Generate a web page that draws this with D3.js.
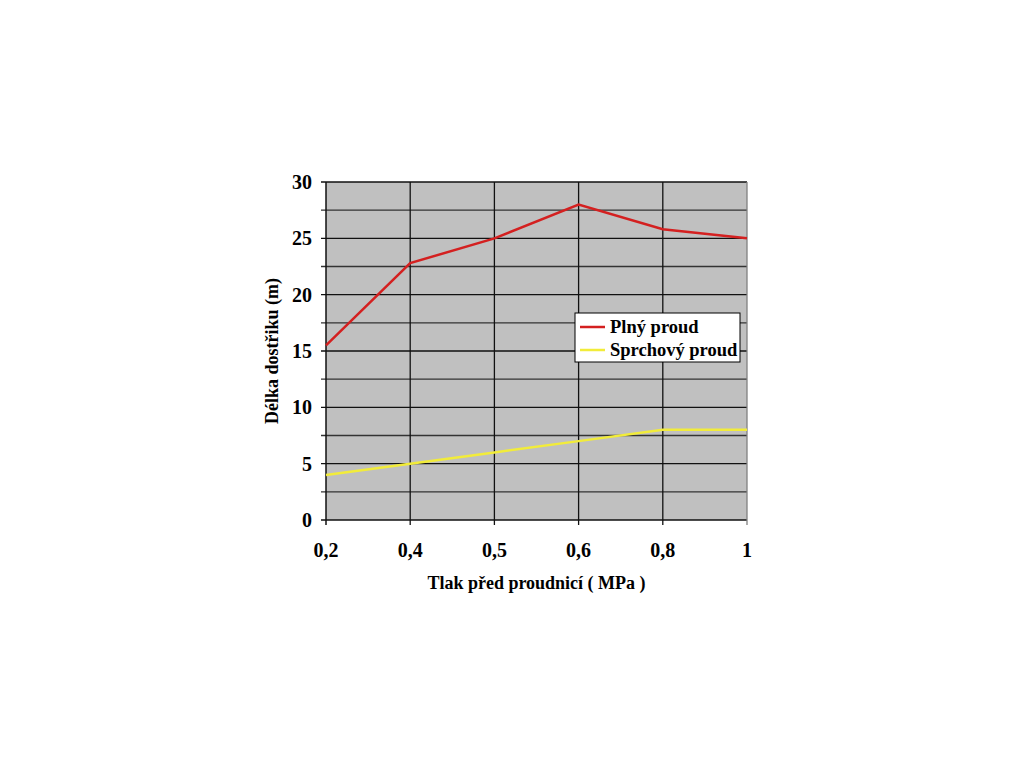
<!DOCTYPE html>
<html>
<head>
<meta charset="utf-8">
<script src="https://cdn.jsdelivr.net/npm/d3@7"></script>
<style>
  body { margin: 0; background: #fff; }
  svg text { font-family: "Times New Roman", "Liberation Serif", Tinos, "DejaVu Serif", serif; font-weight: bold; fill: #000; }
</style>
</head>
<body>
<script>
// data
var categories = ["0,2", "0,4", "0,5", "0,6", "0,8", "1"];
var plnyProud = [15.5, 22.8, 25, 28, 25.8, 25];
var sprchovyProud = [4, 5, 6, 7, 8, 8];
var yTicks = [0, 5, 10, 15, 20, 25, 30];
var yGrid = d3.range(0, 30.01, 2.5);

var series = [
  {name: "Plný proud", values: plnyProud, color: "#d42020"},
  {name: "Sprchový proud", values: sprchovyProud, color: "#f2ec3a"}
];

// dimensions
var margin = {top: 182, left: 326},
    width = 747 - 326,
    height = 520 - 182;

var svg = d3.select("body").append("svg")
    .attr("width", 1024)
    .attr("height", 768);

var g = svg.append("g")
    .attr("transform", "translate(" + margin.left + "," + margin.top + ")");

// scales
var x = d3.scalePoint().domain(categories).range([0, width]);
var y = d3.scaleLinear().domain([0, 30]).range([height, 0]);

// plot background
g.append("rect")
    .attr("width", width)
    .attr("height", height)
    .attr("fill", "#c0c0c0");

// horizontal grid
g.selectAll(".hgrid")
  .data(yGrid)
  .enter().append("line")
    .attr("x1", -5)
    .attr("x2", width)
    .attr("y1", function(d) { return y(d); })
    .attr("y2", function(d) { return y(d); })
    .attr("stroke", function(d) { return d % 5 === 0 ? "#111" : "#333"; })
    .attr("stroke-width", 1.3);

// vertical grid
g.selectAll(".vgrid")
  .data(categories)
  .enter().append("line")
    .attr("x1", function(d) { return x(d); })
    .attr("x2", function(d) { return x(d); })
    .attr("y1", 0)
    .attr("y2", height + 5)
    .attr("stroke", function(d, i) { return i === categories.length - 1 ? "#808080" : "#111"; })
    .attr("stroke-width", function(d, i) { return i === 0 ? 1.5 : 1.3; });

// y axis labels
g.selectAll(".ylab")
  .data(yTicks)
  .enter().append("text")
    .attr("x", -14)
    .attr("y", function(d) { return y(d); })
    .attr("dy", "0.35em")
    .attr("text-anchor", "end")
    .style("font-size", "20px")
    .text(function(d) { return d; });

// x axis labels
g.selectAll(".xlab")
  .data(categories)
  .enter().append("text")
    .attr("x", function(d) { return x(d); })
    .attr("y", height + 37)
    .attr("text-anchor", "middle")
    .style("font-size", "20px")
    .text(function(d) { return d; });

// lines
var line = d3.line()
    .x(function(d, i) { return x(categories[i]); })
    .y(function(d) { return y(d); });

g.selectAll(".series")
  .data(series)
  .enter().append("path")
    .attr("d", function(d) { return line(d.values); })
    .attr("fill", "none")
    .attr("stroke", function(d) { return d.color; })
    .attr("stroke-width", 2.5);

// axis titles
svg.append("text")
    .attr("x", margin.left + width / 2)
    .attr("y", 589)
    .attr("text-anchor", "middle")
    .style("font-size", "18px")
    .text("Tlak před proudnicí ( MPa )");

svg.append("text")
    .attr("transform", "translate(278," + (margin.top + height / 2) + ") rotate(-90)")
    .attr("text-anchor", "middle")
    .style("font-size", "18px")
    .text("Délka dostřiku (m)");

// legend
var legend = svg.append("g").attr("transform", "translate(575,313)");
legend.append("rect")
    .attr("width", 165)
    .attr("height", 49)
    .attr("fill", "#fff")
    .attr("stroke", "#000")
    .attr("stroke-width", 1);

var items = legend.selectAll(".item")
  .data(series)
  .enter().append("g")
    .attr("transform", function(d, i) { return "translate(0," + (14 + i * 23) + ")"; });

items.append("line")
    .attr("x1", 5).attr("x2", 30)
    .attr("stroke", function(d) { return d.color; })
    .attr("stroke-width", 2.5);

items.append("text")
    .attr("x", 35)
    .attr("dy", "0.35em")
    .style("font-size", "18.5px")
    .text(function(d) { return d.name; });
</script>
</body>
</html>
